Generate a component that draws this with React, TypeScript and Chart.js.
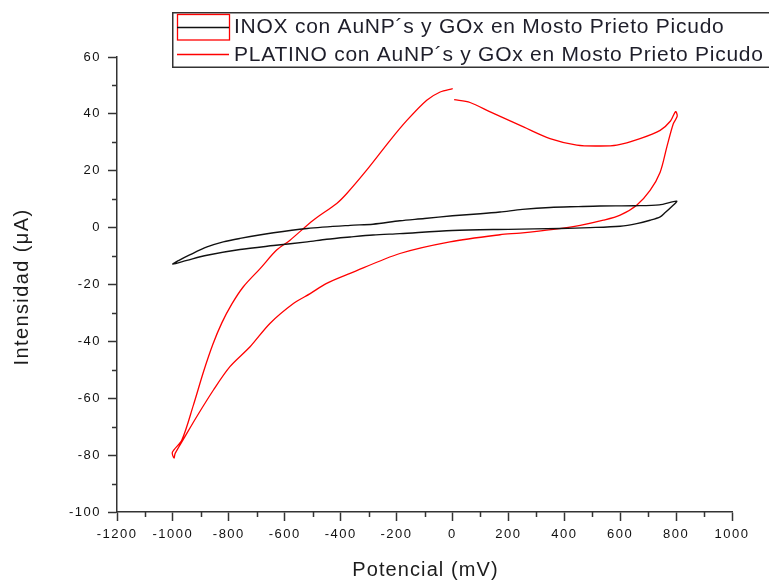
import React, { useEffect, useRef } from "react";
import { Chart, registerables } from "chart.js";

Chart.register(...registerables);

// INOX (black) cyclic voltammogram, scan order
const inoxPot = [0, 100, 170, 250, 349, 450, 528, 650, 740, 802,
  780, 760, 743, 707, 659, 600, 492, 385, 200, 0, -188, -284, -366, -450, -520, -640, -760, -878, -950, -1000,
  -980, -940, -878, -820, -760, -640, -520, -366, -284, -188, -100, 0];
const inoxCur = [4.2, 4.9, 5.5, 6.4, 7.1, 7.4, 7.6, 7.7, 8.0, 9.3,
  7.0, 5.2, 3.8, 2.6, 1.4, 0.5, 0.0, -0.3, -0.6, -1.0, -2.1, -2.6, -3.3, -4.1, -5.0, -6.3, -7.7, -9.7, -11.5, -12.8,
  -11.6, -9.6, -6.8, -5.0, -3.8, -1.8, -0.3, 0.8, 1.2, 2.4, 3.2, 4.2];

// PLATINO (red) cyclic voltammogram, scan order
const platPot = [6, 63, 135, 254, 349, 445, 520, 588, 671, 743, 780, 798, 804, 790,
  767, 743, 707, 659, 600, 540, 457, 361, 242, 170, -9, -188, -366, -450, -509, -569, -653, -724, -796, -855, -915, -957, -992, -996, -1002,
  -968, -927, -890, -857, -825, -790, -748, -688, -629, -581, -498, -414, -378, -307, -223, -163, -92, -44, 1];
const platCur = [45, 44, 40.7, 35.4, 31.3, 29, 28.7, 29, 31.3, 34.2, 37.5, 40.8, 39.2, 36.5,
  28.4, 19.5, 13.1, 7.9, 4.4, 2.6, 0.8, -0.6, -1.9, -2.5, -5, -9.1, -16.1, -19.6, -23.2, -26.7, -33.7, -41.9, -48.9, -57.1, -66.5, -73.5, -79.4, -81, -79,
  -74.7, -62.5, -50.5, -41, -33.5, -27, -20.8, -14.4, -7.9, -4.4, 2.6, 8.5, 12, 20.2, 30.7, 37.7, 44.8, 47.7, 48.9];

const xTicks = { min: -1200, max: 1000, step: 200 };
const yTicks = { min: -100, max: 60, step: 20 };

const legendLabels = [
  "INOX con AuNP´s y GOx en Mosto Prieto Picudo",
  "PLATINO con AuNP´s y GOx en Mosto Prieto Picudo",
];
const xTitle = "Potencial (mV)";
const yTitle = "Intensidad (μA)";

const FONT = "'Liberation Sans', Arial, sans-serif";

export default function App() {
  const ref = useRef<HTMLCanvasElement | null>(null);

  useEffect(() => {
    if (!ref.current) return;
    const toPts = (xs: number[], ys: number[]) => xs.map((x, i) => ({ x, y: ys[i] }));

    const decor = {
      id: "decor",
      beforeDraw(chart: any) {
        (chart.ctx as any).letterSpacing = "1.5px";
      },
      afterDraw(chart: any) {
        const ctx = chart.ctx as CanvasRenderingContext2D;
        const xs = chart.scales.x;
        const ys = chart.scales.y;
        const ca = chart.chartArea;
        ctx.save();
        // minor ticks
        ctx.strokeStyle = "#333";
        ctx.lineWidth = 1.5;
        ctx.beginPath();
        for (let v = xTicks.min + xTicks.step / 2; v < xTicks.max; v += xTicks.step) {
          const px = Math.round(xs.getPixelForValue(v)) + 0.5;
          ctx.moveTo(px, ca.bottom);
          ctx.lineTo(px, ca.bottom + 5);
        }
        for (let v = yTicks.min + yTicks.step / 2; v < yTicks.max; v += yTicks.step) {
          const py = Math.round(ys.getPixelForValue(v)) + 0.5;
          ctx.moveTo(ca.left, py);
          ctx.lineTo(ca.left - 5, py);
        }
        ctx.stroke();

        // axis titles
        ctx.fillStyle = "#1c1c1c";
        (ctx as any).letterSpacing = "1.1px";
        ctx.font = `20px ${FONT}`;
        ctx.textAlign = "center";
        ctx.textBaseline = "middle";
        ctx.fillText(xTitle, (ca.left + ca.right) / 2 + 1, 570);
        ctx.save();
        ctx.translate(22, 287);
        ctx.rotate(-Math.PI / 2);
        (ctx as any).letterSpacing = "1.4px";
        ctx.fillText(yTitle, 0, 0);
        ctx.restore();

        // legend
        ctx.strokeStyle = "#333";
        ctx.lineWidth = 1.5;
        ctx.strokeRect(172.75, 12.75, 620, 54.5);
        ctx.strokeStyle = "#ff0000";
        ctx.lineWidth = 1.3;
        ctx.strokeRect(177.5, 14.5, 52, 25.5);
        ctx.strokeStyle = "#111";
        ctx.beginPath();
        ctx.moveTo(177, 27.5);
        ctx.lineTo(229, 27.5);
        ctx.stroke();
        ctx.strokeStyle = "#ff0000";
        ctx.beginPath();
        ctx.moveTo(177, 54.5);
        ctx.lineTo(229, 54.5);
        ctx.stroke();
        ctx.fillStyle = "#1e1e2a";
        ctx.font = `21px ${FONT}`;
        ctx.textAlign = "left";
        (ctx as any).letterSpacing = "0.75px";
        ctx.fillText(legendLabels[0], 234, 27);
        ctx.fillText(legendLabels[1], 234, 55);
        ctx.restore();
      },
    };

    const tickFont = { family: FONT, size: 13 };
    const plain = (v: any) => String(v);

    const chart = new Chart(ref.current, {
      type: "scatter",
      data: {
        datasets: [
          {
            label: legendLabels[0],
            data: toPts(inoxPot, inoxCur),
            showLine: true,
            borderColor: "#111111",
            borderWidth: 1.4,
            pointRadius: 0,
            tension: 0.3,
            fill: false,
          },
          {
            label: legendLabels[1],
            data: toPts(platPot, platCur),
            showLine: true,
            borderColor: "#ff0000",
            borderWidth: 1.3,
            pointRadius: 0,
            tension: 0.3,
            fill: false,
          },
        ],
      },
      options: {
        responsive: false,
        animation: false,
        devicePixelRatio: 1,
        layout: { padding: { left: 0, top: 57, right: 37, bottom: 0 } },
        plugins: { legend: { display: false }, tooltip: { enabled: false } },
        scales: {
          x: {
            type: "linear",
            min: xTicks.min,
            max: xTicks.max,
            afterFit(scale: any) {
              scale.height = 68;
            },
            ticks: {
              stepSize: xTicks.step,
              autoSkip: false,
              maxRotation: 0,
              padding: 6,
              color: "#111",
              font: tickFont,
              callback: plain,
            },
            grid: {
              drawOnChartArea: false,
              drawTicks: true,
              tickLength: 9,
              tickWidth: 1.5,
              tickColor: "#333",
            },
            border: { display: true, color: "#333", width: 1.5 },
          },
          y: {
            type: "linear",
            min: yTicks.min,
            max: yTicks.max,
            afterFit(scale: any) {
              scale.width = 117;
            },
            ticks: {
              stepSize: yTicks.step,
              autoSkip: false,
              padding: 7,
              color: "#111",
              font: tickFont,
              callback: plain,
            },
            grid: {
              drawOnChartArea: false,
              drawTicks: true,
              tickLength: 9,
              tickWidth: 1.5,
              tickColor: "#333",
            },
            border: { display: true, color: "#333", width: 1.5 },
          },
        },
      },
      plugins: [decor],
    } as any);

    return () => chart.destroy();
  }, []);

  return (
    <div style={{ position: "absolute", left: 0, top: 0, width: 769, height: 580, background: "#fff" }}>
      <canvas ref={ref} width={769} height={580} style={{ display: "block", width: 769, height: 580 }} />
    </div>
  );
}
